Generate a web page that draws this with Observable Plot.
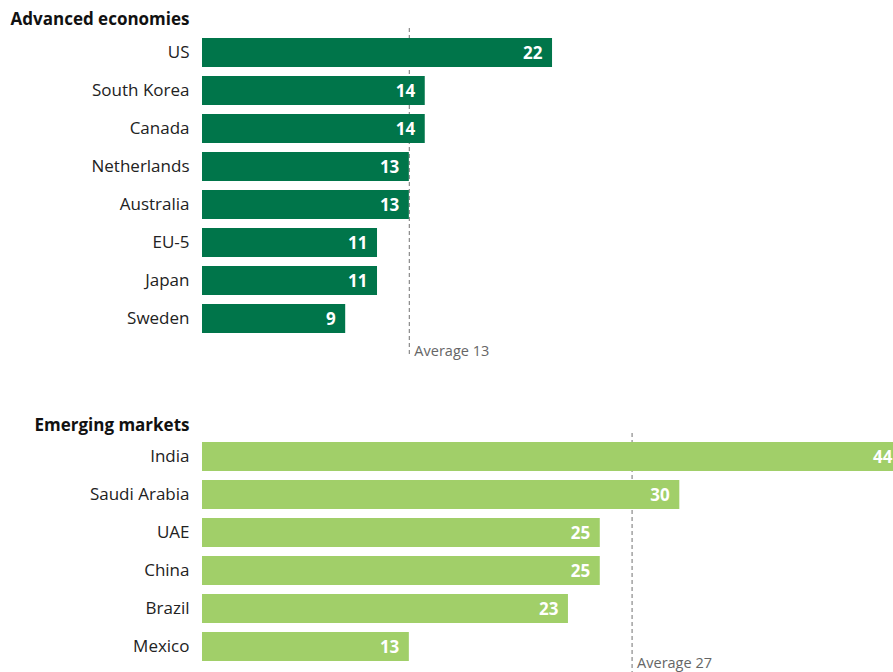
<!DOCTYPE html>
<html>
<head>
<meta charset="utf-8">
<script src="https://cdn.jsdelivr.net/npm/d3@7"></script>
<script src="https://cdn.jsdelivr.net/npm/@observablehq/plot@0.6"></script>
<style>
  html, body { margin: 0; padding: 0; background: #fff; }
  #chart { width: 893px; overflow: hidden; }
  #chart svg { display: block; }
</style>
</head>
<body>
<div id="chart"></div>
<script>
const advTitle = "Advanced economies";
const advCountries = ["US", "South Korea", "Canada", "Netherlands", "Australia", "EU-5", "Japan", "Sweden"];
const advValues = [22, 14, 14, 13, 13, 11, 11, 9];
const advAverage = 13;

const emTitle = "Emerging markets";
const emCountries = ["India", "Saudi Arabia", "UAE", "China", "Brazil", "Mexico"];
const emValues = [44, 30, 25, 25, 23, 13];
const emAverage = 27;

const xMax = 43.43;
const FONT = "'Open Sans', Lato, sans-serif";

function panel({title, countries, values, average, color, height, marginTop, marginBottom, titleDy, ruleInsetTop, ruleInsetBottom, avgDy}) {
  const data = countries.map((c, i) => ({country: c, value: values[i]}));
  return Plot.plot({
    width: 893,
    height,
    marginLeft: 202,
    marginRight: 0,
    marginTop,
    marginBottom,
    style: {fontFamily: FONT, background: "#fff", overflow: "hidden"},
    x: {domain: [0, xMax], axis: null},
    y: {domain: countries, paddingInner: 0.25, paddingOuter: 0.125, label: null, axis: null},
    marks: [
      Plot.ruleX([average], {x: d => d, stroke: "#8a8a8a", strokeWidth: 1.2, strokeDasharray: "4,3", insetTop: ruleInsetTop, insetBottom: ruleInsetBottom}),
      Plot.axisY({tickSize: 0, tickPadding: 13, fontSize: 17, fill: "#222", label: null}),
      Plot.barX(data, {x: "value", y: "country", fill: color}),
      Plot.text(data, {x: "value", y: "country", text: d => String(d.value), textAnchor: "end", dx: -10, dy: 1, fill: "#fff", fontWeight: "bold", fontSize: 17}),
      Plot.text([`Average ${average}`], {x: average, frameAnchor: "bottom", lineAnchor: "middle", textAnchor: "start", dx: 5, dy: avgDy, fill: "#666", fontSize: 14.5}),
      Plot.text([title], {frameAnchor: "top-left", lineAnchor: "middle", textAnchor: "end", dx: -13, dy: titleDy, fill: "#111", fontWeight: "bold", fontSize: 17})
    ]
  });
}

const chart = document.getElementById("chart");
chart.append(panel({
  title: advTitle, countries: advCountries, values: advValues, average: advAverage,
  color: "#00754a", height: 390, marginTop: 32, marginBottom: 51,
  titleDy: -13, ruleInsetTop: -4, ruleInsetBottom: -18, avgDy: 12
}));
chart.append(panel({
  title: emTitle, countries: emCountries, values: emValues, average: emAverage,
  color: "#a1cf69", height: 282, marginTop: 47, marginBottom: 6,
  titleDy: -12, ruleInsetTop: -4, ruleInsetBottom: -6, avgDy: -3
}));
</script>
</body>
</html>
